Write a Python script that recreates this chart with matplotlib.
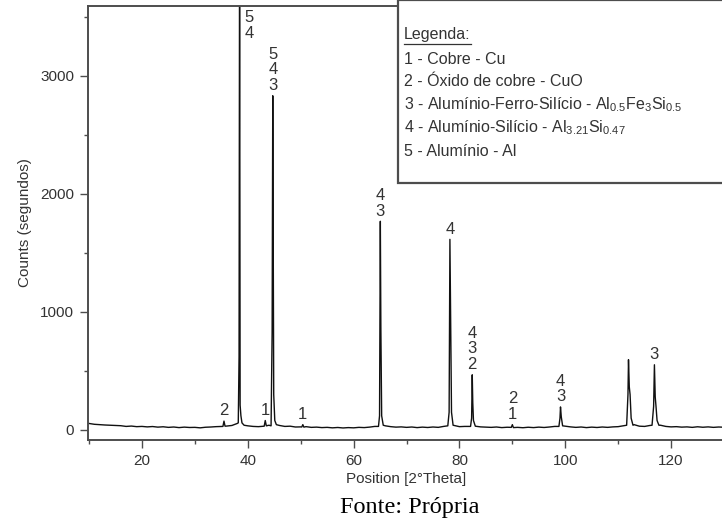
import matplotlib
matplotlib.use("Agg")
import matplotlib.pyplot as plt
from matplotlib.lines import Line2D
from matplotlib.patches import Rectangle
from matplotlib.ticker import MultipleLocator

plt.rcParams["font.family"] = ["Liberation Sans", "DejaVu Sans"]
plt.rcParams["mathtext.fontset"] = "custom"
plt.rcParams["mathtext.rm"] = "Liberation Sans"
plt.rcParams["mathtext.default"] = "regular"

# Diffractogram trace (2theta in degrees, counts)
two_theta = [
    10, 11, 12, 13, 14, 15, 16, 17, 18, 19, 20, 21, 22, 23, 24, 25, 26, 27,
    28, 29, 30, 31, 32, 33, 34, 35, 35.3, 35.5, 35.7, 36, 37, 38,
    38.2, 38.35, 38.45, 38.55, 38.7, 38.9, 39.3, 40, 41, 42,
    43.1, 43.3, 43.5, 44, 44.4, 44.6, 44.72, 44.82, 44.9, 45.1, 45.4,
    46, 47, 48, 49, 50, 50.2, 50.4, 50.6, 51, 52, 53, 54, 55, 56, 57, 58,
    59, 60, 61, 62, 63, 64, 64.7, 64.9, 65.05, 65.15, 65.3, 65.6, 66, 67,
    68, 69, 70, 71, 72, 73, 74, 75, 76, 77, 77.8, 78.05, 78.2, 78.3, 78.38,
    78.5, 78.8, 79, 80, 81, 82.1, 82.3, 82.42, 82.52, 82.65, 83, 84, 85,
    86, 87, 88, 89, 89.8, 90, 90.2, 91, 92, 93, 94, 95, 96, 97, 98, 98.8,
    99, 99.1, 99.25, 99.5, 100, 101, 102, 103, 104, 105, 106, 107, 108,
    109, 110, 111, 111.6, 111.85, 111.95, 112.1, 112.25, 112.45, 112.8,
    113, 114, 115, 116, 116.4, 116.7, 116.85, 117, 117.15, 117.35, 117.7,
    118, 119, 120, 121, 122, 123, 124, 125, 126, 127, 128, 129, 130,
]
counts = [
    55, 48, 45, 42, 40, 38, 36, 30, 33, 28, 30, 26, 29, 24, 27, 22, 25, 20,
    24, 21, 22, 18, 23, 25, 28, 30, 30, 75, 32, 33, 38, 55,
    60, 620, 4300, 210, 120, 60, 40, 35, 30, 28,
    32, 80, 35, 40, 35, 830, 2830, 1500, 300, 80, 45,
    38, 30, 32, 25, 26, 25, 45, 24, 28, 22, 24, 20, 22, 18, 21, 17,
    20, 18, 22, 20, 24, 30, 30, 120, 1767, 860, 120, 40, 35, 28,
    24, 26, 22, 25, 20, 24, 21, 25, 22, 30, 35, 150, 1614, 1120, 720,
    150, 40, 38, 28, 30, 30, 100, 467, 230, 80, 32, 26, 24,
    22, 25, 20, 23, 22, 45, 20, 22, 19, 23, 20, 24, 21, 25, 30, 30,
    100, 195, 110, 35, 32, 26, 22, 25, 20, 24, 21, 25, 22,
    26, 28, 35, 40, 300, 595, 365, 300, 100, 40,
    45, 32, 30, 38, 40, 200, 552, 280, 200, 80, 40,
    40, 30, 26, 28, 24, 26, 22, 27, 23, 26, 22, 25, 23,
]

# Phase labels on the peaks
peak_pos = [35.5, 43.3, 44.72, 50.4, 65.05, 78.2, 82.42, 90.0, 99.1, 116.85]
peak_height = [75, 80, 2830, 45, 1767, 1614, 467, 45, 195, 552]
peak_phases = ["2", "1", "5\n4\n3", "1", "4\n3", "4", "4\n3\n2", "2\n1", "4\n3", "3"]
top_peak_pos = 38.45
top_peak_phases = "5\n4"

legend_title = "Legenda:"
legend_lines = [
    "1 - Cobre - Cu",
    "2 - Óxido de cobre - CuO",
    "3 - Alumínio-Ferro-Silício - Al$_{0.5}$Fe$_{3}$Si$_{0.5}$",
    "4 - Alumínio-Silício - Al$_{3.21}$Si$_{0.47}$",
    "5 - Alumínio - Al",
]

W, H = 722, 522
fig = plt.figure(figsize=(W / 100, H / 100), dpi=100)
ax = fig.add_axes([88 / W, 1 - 440 / H, (724 - 88) / W, 434 / H])

ink = "#333333"
frame = "#4d4d4d"
ax.plot(two_theta, counts, color="#111111", lw=1.0)
ax.set_xlim(9.8, 130)
ax.set_ylim(-85, 3590)

ax.xaxis.set_major_locator(MultipleLocator(20))
ax.xaxis.set_minor_locator(MultipleLocator(10))
ax.yaxis.set_major_locator(MultipleLocator(1000))
ax.yaxis.set_minor_locator(MultipleLocator(500))
ax.tick_params(which="both", direction="out", color=frame, width=1.0,
               labelsize=11, labelcolor=ink, pad=4)
ax.tick_params(which="major", length=6)
ax.tick_params(which="minor", length=3)
for side in ("left", "bottom", "top"):
    ax.spines[side].set_color(frame)
    ax.spines[side].set_linewidth(1.4)
ax.spines["right"].set_visible(False)

ax.set_xlabel("Position [2°Theta]", fontsize=11, color=ink, labelpad=3)
ax.set_ylabel("Counts (segundos)", fontsize=11, color=ink, labelpad=6)

for x, h, txt in zip(peak_pos, peak_height, peak_phases):
    ax.annotate(txt, (x, h), xytext=(0, 2), textcoords="offset points",
                ha="center", va="bottom", fontsize=12, color=ink,
                linespacing=1.05)
ax.annotate(top_peak_phases, (top_peak_pos, 1), xycoords=("data", "axes fraction"),
            xytext=(7, -3), textcoords="offset points", ha="center", va="top",
            fontsize=12, color=ink, linespacing=1.05)

# legend box in the top right corner
box = Rectangle((398 / W, 1 - 183 / H), 1, 183 / H, transform=fig.transFigure,
                facecolor="white", edgecolor=frame, lw=1.6, zorder=5)
fig.add_artist(box)
title = fig.text(404 / W, 1 - 35 / H, legend_title, fontsize=11.5, color=ink,
                 va="center", ha="left", zorder=6)
for i, line in enumerate(legend_lines):
    fig.text(404 / W, 1 - (59 + 23 * i) / H, line, fontsize=11.5, color=ink,
             va="center", ha="left", zorder=6)
fig.canvas.draw()
bb = title.get_window_extent().transformed(fig.transFigure.inverted())
fig.add_artist(Line2D([bb.x0, bb.x1], [bb.y0 - 0.002, bb.y0 - 0.002],
                      transform=fig.transFigure, color=ink, lw=0.9, zorder=6))

fig.text(410 / W, 1 - 507 / H, "Fonte: Própria", fontsize=17.5,
         family="Liberation Serif", color="black", ha="center", va="center")

fig.savefig("out.png", dpi=100)
